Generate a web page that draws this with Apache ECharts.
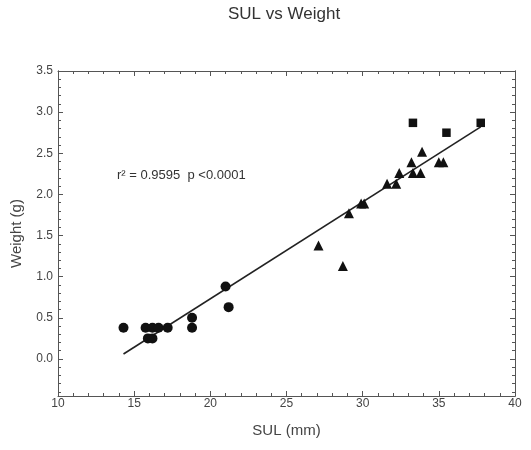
<!DOCTYPE html>
<html>
<head>
<meta charset="utf-8">
<script src="https://cdn.jsdelivr.net/npm/echarts@6/dist/echarts.min.js"></script>
<style>
  html, body { margin: 0; padding: 0; background: #fff; }
  #chart { width: 531px; height: 450px; }
</style>
</head>
<body>
<div id="chart"></div>
<script>
// values
const circleSUL = [14.3, 15.75, 16.2, 16.6, 17.2, 15.9, 16.2, 18.8, 18.8, 21.0, 21.2];
const circleWeight = [0.38, 0.38, 0.38, 0.38, 0.38, 0.25, 0.25, 0.50, 0.38, 0.88, 0.63];

const triangleSUL = [27.1, 28.7, 29.1, 29.9, 30.1, 31.6, 32.2, 32.4, 33.2, 33.3, 33.8, 33.9, 35.0, 35.3];
const triangleWeight = [1.38, 1.13, 1.77, 1.89, 1.89, 2.13, 2.13, 2.26, 2.39, 2.26, 2.26, 2.52, 2.39, 2.39];

const squareSUL = [33.3, 35.5, 37.75];
const squareWeight = [2.87, 2.75, 2.87];

// regression line end points
const fitSUL = [14.3, 37.75];
const fitWeight = [0.06, 2.82];

const yMajorTicks = [0, 0.5, 1.0, 1.5, 2.0, 2.5, 3.0, 3.5];
const yMinorTicks = [];
for (let i = -4; i <= 35; i++) yMinorTicks.push(i / 10);

const annotation = 'r\u00b2 = 0.9595  p <0.0001';

const pairs = (xs, ys) => xs.map((x, i) => [x, ys[i]]);

const axisColor = '#555';
const textColor = '#444';
const font = 'Liberation Sans, Arial, sans-serif';

const chart = echarts.init(document.getElementById('chart'));

const xBase = {
  type: 'value',
  min: 10,
  max: 40,
  interval: 5,
  axisLine: { show: true, onZero: false, lineStyle: { color: axisColor, width: 1 } },
  axisTick: { show: true, inside: true, length: 5, lineStyle: { color: axisColor } },
  minorTick: { show: true, splitNumber: 5, length: 3, lineStyle: { color: axisColor } },
  splitLine: { show: false },
  minorSplitLine: { show: false }
};

const yBase = {
  type: 'value',
  min: -0.45,
  max: 3.5,
  splitLine: { show: false },
  axisLine: { show: true, onZero: false, lineStyle: { color: axisColor, width: 1 } }
};

const option = {
  backgroundColor: '#fff',
  animation: false,
  title: {
    text: 'SUL vs Weight',
    left: 228,
    top: 6,
    padding: 0,
    textStyle: { fontSize: 17, fontWeight: 'normal', color: '#333', fontFamily: font }
  },
  grid: { left: 58, right: 16, top: 71, bottom: 54 },
  xAxis: [
    Object.assign({}, xBase, {
      position: 'bottom',
      name: 'SUL (mm)',
      nameLocation: 'middle',
      nameGap: 27,
      nameTextStyle: { fontSize: 15, color: textColor, fontFamily: font },
      axisLabel: { margin: 2, fontSize: 12, color: textColor, fontFamily: font }
    }),
    Object.assign({}, xBase, {
      position: 'top',
      axisLabel: { show: false }
    })
  ],
  yAxis: [
    Object.assign({}, yBase, {
      position: 'left',
      name: 'Weight (g)',
      nameLocation: 'middle',
      nameGap: 34,
      nameTextStyle: { fontSize: 15, color: textColor, fontFamily: font },
      axisTick: { show: true, inside: true, length: 5, customValues: yMajorTicks, lineStyle: { color: axisColor } },
      axisLabel: {
        margin: 5, fontSize: 12, color: textColor, fontFamily: font,
        customValues: yMajorTicks,
        formatter: v => v.toFixed(1)
      }
    }),
    Object.assign({}, yBase, {
      position: 'left',
      axisTick: { show: true, inside: true, length: 3, customValues: yMinorTicks, lineStyle: { color: axisColor } },
      axisLabel: { show: false }
    }),
    Object.assign({}, yBase, {
      position: 'right',
      axisTick: { show: true, inside: true, length: 5, customValues: yMajorTicks, lineStyle: { color: axisColor } },
      axisLabel: { show: false }
    }),
    Object.assign({}, yBase, {
      position: 'right',
      axisTick: { show: true, inside: true, length: 3, customValues: yMinorTicks, lineStyle: { color: axisColor } },
      axisLabel: { show: false }
    })
  ],
  graphic: [
    {
      type: 'text',
      left: 117,
      top: 169,
      style: { text: annotation, fontSize: 13, fill: '#333', fontFamily: font }
    }
  ],
  series: [
    {
      name: 'fit',
      type: 'line',
      data: pairs(fitSUL, fitWeight),
      showSymbol: false,
      symbol: 'none',
      lineStyle: { color: '#222', width: 1.6 },
      z: 1
    },
    {
      name: 'circles',
      type: 'scatter',
      data: pairs(circleSUL, circleWeight),
      symbol: 'circle',
      symbolSize: 10,
      itemStyle: { color: '#111', opacity: 1 },
      z: 2
    },
    {
      name: 'triangles',
      type: 'scatter',
      data: pairs(triangleSUL, triangleWeight),
      symbol: 'triangle',
      symbolSize: 10,
      itemStyle: { color: '#111', opacity: 1 },
      z: 2
    },
    {
      name: 'squares',
      type: 'scatter',
      data: pairs(squareSUL, squareWeight),
      symbol: 'rect',
      symbolSize: 8.5,
      itemStyle: { color: '#111', opacity: 1 },
      z: 2
    }
  ]
};

chart.setOption(option);
</script>
</body>
</html>
